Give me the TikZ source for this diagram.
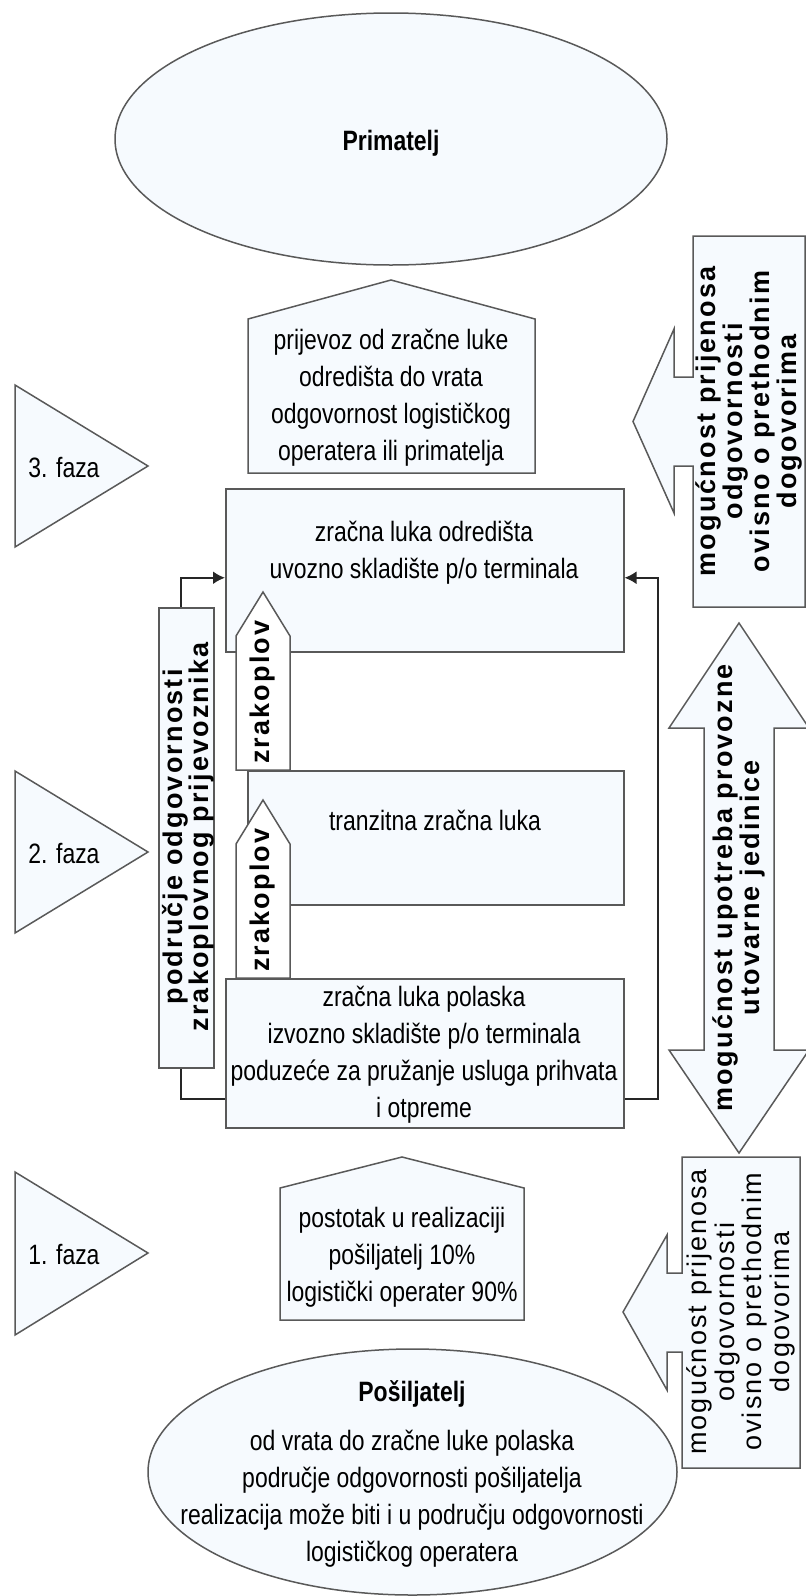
\documentclass[tikz,border=0pt]{standalone}
\usepackage{fontspec}
\usetikzlibrary{arrows.meta}
\usetikzlibrary{shapes.geometric}

\newfontfamily\narrowfont[FakeStretch=0.82]{Liberation Sans}
\newfontfamily\spacedfont[LetterSpace=8]{Liberation Sans}
\definecolor{paleblue}{RGB}{246,250,254}
\newcommand{\narrowtext}{\narrowfont\fontsize{14}{18.5}\selectfont}
\newcommand{\narrowbold}{\narrowfont\bfseries\fontsize{14}{18.5}\selectfont}
\newcommand{\spacedbold}{\spacedfont\bfseries\fontsize{13.5}{13.6}\selectfont}
\newcommand{\spacedtight}{\spacedfont\bfseries\fontsize{13.5}{12.8}\selectfont}
\newcommand{\spacedplain}{\spacedfont\fontsize{13.5}{13.8}\selectfont}

\begin{document}
\begin{tikzpicture}[x=0.5pt, y=-0.5pt,
    shapeline/.style={draw=black!65, line width=0.75pt, fill=paleblue},
    planebox/.style={draw=black!65, line width=0.75pt, fill=white},
    airbox/.style={shapeline, rectangle, inner sep=0pt, anchor=north west},
    oval/.style={shapeline, ellipse, inner sep=0pt},
    txt/.style={font=\narrowtext, align=center, inner sep=0pt},
    headtxt/.style={font=\narrowbold, align=center, inner sep=0pt},
    vtxt/.style={font=\spacedbold, align=center, rotate=90, inner sep=0pt},
    conn/.style={draw=black!85, line width=1pt, -{Latex[length=6pt,width=6.5pt]}}]
        \clip (0,0) rectangle (806,1596);
        %
        \node[oval, minimum width=276pt, minimum height=126pt] (prim) at (391,139) {};
        \node[headtxt] (primtxt) at (391,143) {Primatelj};
        %
        \draw[shapeline] (805,236) -- (693,236) -- (693,377) -- (674,377) -- (674,329) -- (633,421.5)
            -- (674,513) -- (674,466) -- (693,466) -- (693,607) -- (805,607) -- cycle;
        \node[vtxt] (prijenos3) at (749,421.5) {mogućnost prijenosa\\odgovornosti\\ovisno o prethodnim\\dogovorima};
        %
        \draw[shapeline] (248,473) -- (248,319) -- (391,280) -- (535,319) -- (535,473) -- cycle;
        \node[txt] (prijevoz) at (391,398) {prijevoz od zračne luke\\odredišta do vrata\\odgovornost logističkog\\operatera ili primatelja};
        %
        \draw[shapeline] (15,385) -- (148,466) -- (15,547) -- cycle;
        \node[txt] (faza3) at (64,467) {3. faza};
        \draw[shapeline] (15,771) -- (148,852) -- (15,933) -- cycle;
        \node[txt] (faza2) at (64,853) {2. faza};
        \draw[shapeline] (15,1172) -- (148,1253) -- (15,1335) -- cycle;
        \node[txt] (faza1) at (64,1254) {1. faza};
        %
        \node[airbox, minimum width=199pt, minimum height=81.5pt] (odred) at (225,488) {};
        \node[txt] (odredtxt) at (424,553) {zračna luka odredišta\\uvozno skladište p/o terminala};
        \node[airbox, minimum width=188pt, minimum height=67pt] (tranz) at (247,770) {};
        \node[txt] (tranztxt) at (435,820) {tranzitna zračna luka};
        \node[airbox, minimum width=199pt, minimum height=74.5pt] (polaz) at (225,978) {};
        \node[txt] (polaztxt) at (424,1055) {zračna luka polaska\\izvozno skladište p/o terminala\\poduzeće za pružanje usluga prihvata\\i otpreme};
        %
        \draw[conn] ([yshift=15pt]polaz.south west) -- ++(-22pt,0) |- ([yshift=-3.75pt]odred.west);
        \draw[conn] ([yshift=15pt]polaz.south east) -- ++(16.5pt,0) |- ([yshift=-3.75pt]odred.east);
        %
        \node[airbox, minimum width=27.5pt, minimum height=230pt] (prijev) at (158,607) {};
        \node[vtxt, font=\spacedtight] (prijevtxt) at (188,837) {područje odgovornosti\\zrakoplovnog prijevoznika};
        %
        \draw[planebox] (236,770) -- (236,636) -- (263,592) -- (290,636) -- (290,770) -- cycle;
        \node[vtxt] (let1) at (263,692) {zrakoplov};
        \draw[planebox] (236,978) -- (236,844) -- (263,800) -- (290,844) -- (290,978) -- cycle;
        \node[vtxt] (let2) at (263,900) {zrakoplov};
        %
        \draw[shapeline] (739,623) -- (809,728) -- (774,728) -- (774,1050) -- (809,1050) -- (739,1153)
            -- (669,1050) -- (704,1050) -- (704,728) -- (669,728) -- cycle;
        \node[vtxt] (uld) at (739,888) {mogućnost upotreba provozne\\utovarne jedinice};
        %
        \draw[shapeline] (280,1320) -- (280,1188) -- (402,1157) -- (524,1188) -- (524,1320) -- cycle;
        \node[txt] (postotak) at (402,1257) {postotak u realizaciji\\pošiljatelj 10\%\\logistički operater 90\%};
        %
        \draw[shapeline] (800,1157) -- (682,1157) -- (682,1273) -- (667,1273) -- (667,1235) -- (623,1312)
            -- (667,1390) -- (667,1352) -- (682,1352) -- (682,1468) -- (800,1468) -- cycle;
        \node[vtxt, font=\spacedplain] (prijenos1) at (741,1312) {mogućnost prijenosa\\odgovornosti\\ovisno o prethodnim\\dogovorima};
        %
        \node[oval, minimum width=264.5pt, minimum height=123pt] (posil) at (412.5,1472) {};
        \node[headtxt] (posiltxt) at (412,1394) {Pošiljatelj};
        \node[txt] (posilinfo) at (412,1499) {od vrata do zračne luke polaska\\područje odgovornosti pošiljatelja\\realizacija može biti i u području odgovornosti\\logističkog operatera};
\end{tikzpicture}
\end{document}
